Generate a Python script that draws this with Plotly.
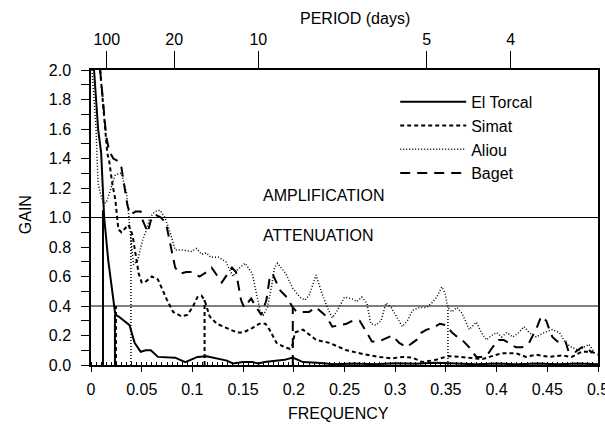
import plotly.graph_objects as go

# ---------------- data ----------------
torcal_f = [0.003, 0.007, 0.010, 0.012, 0.013, 0.017, 0.024, 0.027, 0.033, 0.038, 0.043, 0.049,
            0.054, 0.059, 0.066, 0.074, 0.083, 0.093, 0.098, 0.105, 0.114, 0.124, 0.134, 0.140,
            0.150, 0.159, 0.165, 0.171, 0.181, 0.191, 0.199, 0.209, 0.223, 0.240, 0.260, 0.280,
            0.300, 0.320, 0.340, 0.360, 0.380, 0.400, 0.420, 0.440, 0.460, 0.480, 0.500]
torcal_g = [2.00, 1.60, 1.44, 1.05, 1.00, 0.71, 0.34, 0.33, 0.30, 0.27, 0.15, 0.09,
            0.10, 0.10, 0.055, 0.055, 0.05, 0.02, 0.035, 0.055, 0.06, 0.045, 0.03, 0.01,
            0.02, 0.02, 0.01, 0.02, 0.03, 0.035, 0.05, 0.02, 0.015, 0.005, 0.01, 0.005,
            0.012, 0.008, 0.015, 0.01, 0.005, 0.01, 0.005, 0.01, 0.005, 0.01, 0.005]

simat_f = [0.009, 0.012, 0.014, 0.016, 0.018, 0.021, 0.024, 0.027, 0.030, 0.034, 0.037, 0.041,
           0.044, 0.047, 0.050, 0.053, 0.060, 0.066, 0.075, 0.081, 0.089, 0.095, 0.100, 0.105,
           0.109, 0.112, 0.117, 0.124, 0.134, 0.144, 0.150, 0.159, 0.166, 0.172, 0.176, 0.183,
           0.191, 0.196, 0.199, 0.201, 0.209, 0.222, 0.235, 0.252, 0.268, 0.284, 0.297, 0.307,
           0.317, 0.327, 0.340, 0.346, 0.352, 0.356, 0.366, 0.376, 0.386, 0.393, 0.405, 0.419,
           0.429, 0.439, 0.452, 0.464, 0.474, 0.484, 0.494, 0.500]
simat_g = [2.00, 1.76, 1.60, 1.44, 1.38, 1.23, 1.12, 0.92, 0.90, 0.93, 0.95, 0.88,
           0.76, 0.62, 0.56, 0.56, 0.60, 0.58, 0.44, 0.36, 0.33, 0.34, 0.39, 0.46,
           0.47, 0.44, 0.33, 0.28, 0.25, 0.22, 0.22, 0.25, 0.28, 0.28, 0.24, 0.15,
           0.12, 0.11, 0.14, 0.22, 0.24, 0.17, 0.15, 0.10, 0.075, 0.055, 0.045, 0.055,
           0.05, 0.02, 0.035, 0.045, 0.06, 0.06, 0.055, 0.045, 0.04, 0.055, 0.08, 0.08,
           0.055, 0.07, 0.055, 0.065, 0.055, 0.09, 0.09, 0.07]

aliou_f = [0.001, 0.003, 0.005, 0.006, 0.007, 0.009, 0.012, 0.015, 0.020, 0.024, 0.030, 0.035,
           0.039, 0.042, 0.046, 0.051, 0.055, 0.058, 0.063, 0.068, 0.073, 0.078, 0.083, 0.091,
           0.099, 0.104, 0.109, 0.114, 0.118, 0.126, 0.133, 0.140, 0.145, 0.152, 0.159, 0.164,
           0.167, 0.170, 0.174, 0.178, 0.181, 0.184, 0.192, 0.199, 0.206, 0.211, 0.215, 0.222,
           0.227, 0.233, 0.238, 0.243, 0.250, 0.257, 0.262, 0.267, 0.272, 0.276, 0.281, 0.286,
           0.291, 0.296, 0.301, 0.307, 0.312, 0.317, 0.324, 0.331, 0.336, 0.341, 0.346, 0.349,
           0.352, 0.356, 0.361, 0.366, 0.373, 0.380, 0.385, 0.390, 0.395, 0.400, 0.405, 0.410,
           0.416, 0.422, 0.427, 0.432, 0.439, 0.447, 0.455, 0.462, 0.468, 0.474, 0.481, 0.486,
           0.491, 0.496]
aliou_g = [2.00, 1.83, 1.60, 1.40, 1.23, 1.17, 1.10, 1.10, 1.20, 1.29, 1.30, 1.17,
           0.88, 0.68, 0.71, 0.85, 0.92, 1.00, 1.04, 1.05, 1.00, 0.90, 0.78, 0.78,
           0.77, 0.79, 0.75, 0.76, 0.73, 0.73, 0.70, 0.60, 0.65, 0.69, 0.62, 0.46,
           0.36, 0.34, 0.39, 0.53, 0.66, 0.69, 0.62, 0.52, 0.46, 0.44, 0.47, 0.61,
           0.50, 0.39, 0.32, 0.37, 0.46, 0.45, 0.43, 0.46, 0.42, 0.28, 0.27, 0.30,
           0.42, 0.39, 0.33, 0.26, 0.30, 0.37, 0.39, 0.39, 0.42, 0.46, 0.53, 0.49,
           0.39, 0.36, 0.39, 0.35, 0.24, 0.29, 0.22, 0.17, 0.20, 0.22, 0.19, 0.22,
           0.19, 0.22, 0.26, 0.22, 0.19, 0.22, 0.24, 0.22, 0.15, 0.12, 0.10, 0.12,
           0.14, 0.09]

baget_f = [0.009, 0.012, 0.015, 0.018, 0.022, 0.027, 0.030, 0.032, 0.036, 0.039, 0.044, 0.049,
           0.051, 0.056, 0.059, 0.063, 0.069, 0.074, 0.079, 0.083, 0.088, 0.094, 0.100, 0.107,
           0.114, 0.119, 0.124, 0.129, 0.134, 0.139, 0.143, 0.148, 0.151, 0.158, 0.163, 0.168,
           0.173, 0.176, 0.179, 0.186, 0.193, 0.199, 0.203, 0.215, 0.222, 0.232, 0.238, 0.245,
           0.252, 0.258, 0.265, 0.272, 0.277, 0.284, 0.291, 0.297, 0.304, 0.311, 0.317, 0.321,
           0.326, 0.331, 0.337, 0.344, 0.350, 0.356, 0.363, 0.366, 0.373, 0.380, 0.385, 0.391,
           0.396, 0.402, 0.407, 0.419, 0.425, 0.432, 0.435, 0.440, 0.444, 0.449, 0.452, 0.455,
           0.460, 0.468, 0.471, 0.478, 0.484, 0.489, 0.494]
baget_g = [2.00, 1.76, 1.55, 1.45, 1.40, 1.38, 1.34, 1.25, 1.08, 1.02, 1.04, 1.04,
           0.98, 0.90, 0.98, 1.02, 1.00, 0.96, 0.80, 0.66, 0.62, 0.63, 0.63, 0.60,
           0.63, 0.66, 0.61, 0.56, 0.61, 0.66, 0.63, 0.44, 0.39, 0.45, 0.39, 0.34,
           0.44, 0.58, 0.62, 0.51, 0.46, 0.39, 0.36, 0.36, 0.39, 0.33, 0.26, 0.27,
           0.28, 0.30, 0.30, 0.22, 0.16, 0.16, 0.18, 0.20, 0.15, 0.12, 0.15, 0.17,
           0.22, 0.24, 0.25, 0.28, 0.27, 0.22, 0.18, 0.17, 0.12, 0.055, 0.055, 0.07,
           0.12, 0.17, 0.17, 0.12, 0.12, 0.15, 0.19, 0.26, 0.33, 0.30, 0.24, 0.19,
           0.16, 0.16, 0.09, 0.09, 0.12, 0.12, 0.08]

series_names = ["El Torcal", "Simat", "Aliou", "Baget"]
series_f = [torcal_f, simat_f, aliou_f, baget_f]
series_g = [torcal_g, simat_g, aliou_g, baget_g]

# vertical drop lines
vline_series = ["El Torcal", "El Torcal", "Simat", "Aliou", "Simat", "Baget", "Aliou"]
vline_freq = [0.0118, 0.0236, 0.0246, 0.0394, 0.112, 0.199, 0.352]
vline_top = [1.05, 0.34, 0.40, 0.88, 0.44, 0.39, 0.39]

thresholds = [1.0, 0.4]

freq_ticks = [0, 0.05, 0.1, 0.15, 0.2, 0.25, 0.3, 0.35, 0.4, 0.45, 0.5]
freq_labels = ["0", "0.05", "0.1", "0.15", "0.2", "0.25", "0.3", "0.35", "0.4", "0.45", "0.5"]
period_labels = ["100", "20", "10", "5", "4"]
period_tick_freq = [0.0155, 0.082, 0.165, 0.331, 0.414]

# ---------------- styles ----------------
FONT = "Liberation Sans, Arial, sans-serif"
styles = {
    "El Torcal": dict(dash="solid", width=2),
    "Simat": dict(dash="4px,3px", width=2),
    "Aliou": dict(dash="1px,2px", width=1.5),
    "Baget": dict(dash="10px,7px", width=2),
}

fig = go.Figure()
for i, (name, f, g) in enumerate(zip(series_names, series_f, series_g)):
    st = styles[name]
    fig.add_trace(go.Scatter(x=f, y=g, mode="lines", name=name,
                             legendgroup=name,
                             line=dict(color="black", width=st["width"], dash=st["dash"])))

for name, f, top in zip(vline_series, vline_freq, vline_top):
    st = styles[name]
    fig.add_trace(go.Scatter(x=[f, f], y=[0, top], mode="lines", showlegend=False,
                             hoverinfo="skip",
                             line=dict(color="black", width=st["width"], dash=st["dash"])))

# dummy trace for top axis
fig.add_trace(go.Scatter(x=period_tick_freq, y=[None] * len(period_tick_freq), xaxis="x2",
                         mode="lines", showlegend=False, hoverinfo="skip"))

for t in thresholds:
    fig.add_hline(y=t, line=dict(color="black", width=1.2))

fig.add_annotation(x=0.168, y=1.146, xref="x", yref="y", text="AMPLIFICATION", showarrow=False,
                   xanchor="left", yanchor="middle", font=dict(size=16, family=FONT, color="black"))
fig.add_annotation(x=0.168, y=0.875, xref="x", yref="y", text="ATTENUATION", showarrow=False,
                   xanchor="left", yanchor="middle", font=dict(size=16, family=FONT, color="black"))
fig.add_annotation(x=0.489, y=-0.165, xref="paper", yref="paper", text="FREQUENCY", showarrow=False,
                   xanchor="center", yanchor="middle", font=dict(size=16, family=FONT, color="black"))
fig.add_annotation(x=0.521, y=1.176, xref="paper", yref="paper", text="PERIOD (days)", showarrow=False,
                   xanchor="center", yanchor="middle", font=dict(size=16, family=FONT, color="black"))
fig.add_annotation(x=-0.130, y=0.508, xref="paper", yref="paper", text="GAIN", showarrow=False,
                   textangle=-90, xanchor="center", yanchor="middle",
                   font=dict(size=16, family=FONT, color="black"))

fig.update_layout(
    width=605, height=428,
    margin=dict(l=91, r=7, t=70, b=63, autoexpand=False),
    paper_bgcolor="white", plot_bgcolor="white",
    font=dict(family=FONT, size=16, color="black"),
    showlegend=True,
    legend=dict(x=0.60, y=0.95, xanchor="left", yanchor="top",
                bgcolor="rgba(0,0,0,0)", borderwidth=0,
                itemwidth=66, traceorder="grouped", tracegroupgap=0,
                font=dict(size=16, family=FONT, color="black")),
    xaxis=dict(range=[0, 0.5], tickvals=freq_ticks, ticktext=freq_labels,
               ticks="outside", ticklen=5, tickwidth=1.2, tickcolor="black",
               minor=dict(ticks="inside", ticklen=3, dtick=0.005, tickcolor="black", tickwidth=1),
               showline=True, linecolor="black", linewidth=1.5,
               showgrid=False, zeroline=False, ticklabelstandoff=4,
               ticklabeloverflow="allow", automargin=False),
    xaxis2=dict(range=[0, 0.5], overlaying="x", side="top", anchor="y",
                tickvals=period_tick_freq, ticktext=period_labels,
                ticks="outside", ticklen=17, tickwidth=1.2, tickcolor="black",
                showline=True, linecolor="black", linewidth=1.5,
                showgrid=False, zeroline=False, automargin=False),
    yaxis=dict(range=[0, 2.0], tickvals=[0, 0.2, 0.4, 0.6, 0.8, 1.0, 1.2, 1.4, 1.6, 1.8, 2.0],
               tickformat=".1f", ticks="outside", ticklen=8, tickwidth=1.2, tickcolor="black",
               minor=dict(ticks="outside", ticklen=8, dtick=0.1, tickcolor="black", tickwidth=1.2),
               showline=True, linecolor="black", linewidth=1.5, mirror=True,
               showgrid=False, zeroline=False, ticklabelstandoff=7, automargin=False),
)

fig.write_html("out.html")
